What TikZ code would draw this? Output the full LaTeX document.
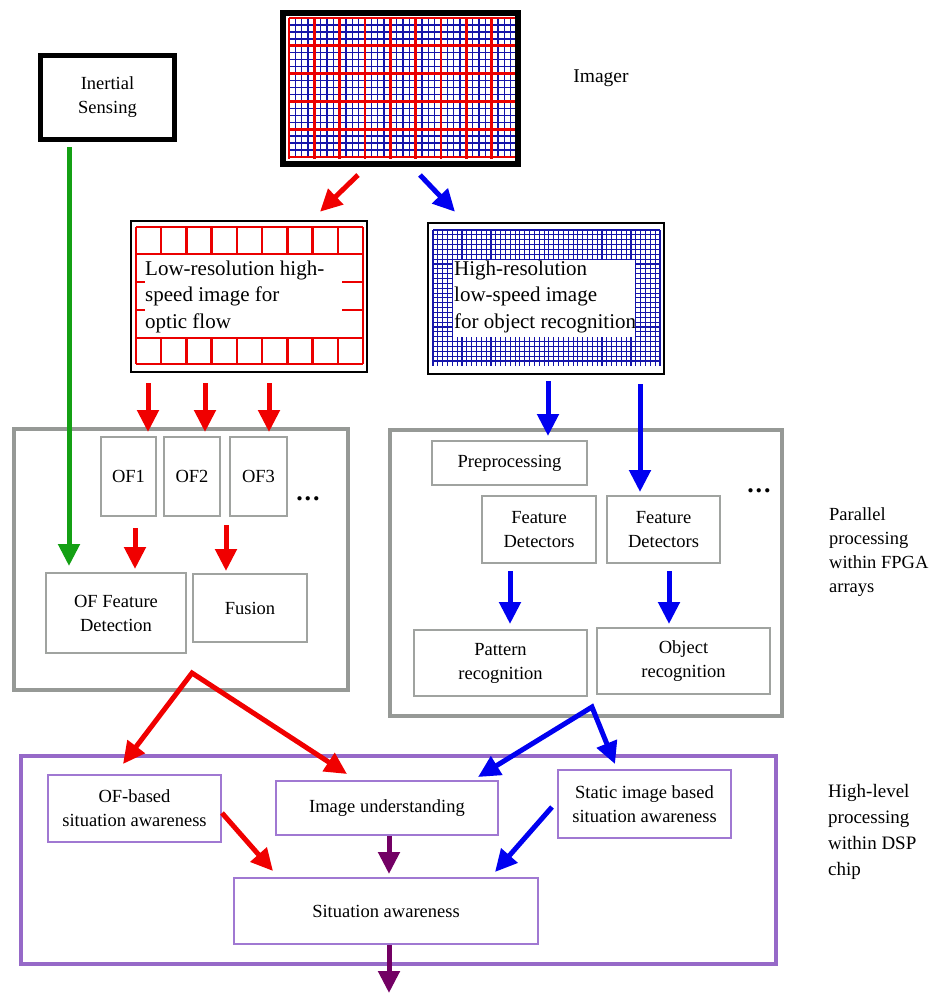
\documentclass[tikz,border=0pt]{standalone}
\usepackage{fontspec}
\setmainfont{Liberation Serif}
\usetikzlibrary{arrows.meta}
\definecolor{fgray}{RGB}{150,153,150}
\definecolor{bgray}{RGB}{160,163,160}
\definecolor{dspp}{RGB}{150,105,200}
\definecolor{dspbox}{RGB}{160,120,210}
\definecolor{arrred}{RGB}{240,0,0}
\definecolor{arrblue}{RGB}{0,0,240}
\definecolor{arrgreen}{RGB}{20,160,20}
\definecolor{arrpurple}{RGB}{115,0,100}
\definecolor{gridblue}{RGB}{20,20,170}
\definecolor{gridred}{RGB}{235,0,0}
\begin{document}
\begin{tikzpicture}[x=1pt,y=-1pt,
  txt/.style={font=\fontsize{18.5}{24}\selectfont, align=center, inner sep=0pt},
  imgtxt/.style={font=\fontsize{21}{26.5}\selectfont, align=left, inner sep=0pt, anchor=west},
  sidetxt/.style={font=\fontsize{18.5}{24}\selectfont, align=left, inner sep=0pt, anchor=west},
  blackbox/.style={draw=black, inner sep=0pt},
  graybox/.style={draw=bgray, line width=2pt, txt},
  bigbox/.style={draw=fgray, line width=4pt, inner sep=0pt},
  dspbig/.style={draw=dspp, line width=4pt, inner sep=0pt},
  pbox/.style={draw=dspbox, line width=2pt, txt},
  arr/.style={line width=5pt, -{Triangle[width=21pt,length=22pt]}},
  arrtwo/.style={line width=5pt, line join=miter, {Triangle[width=21pt,length=22pt]}-{Triangle[width=21pt,length=22pt]}},
  dots/.style={font=\fontsize{26}{26}\selectfont\bfseries, inner sep=0pt}
]
\useasboundingbox (0,0) rectangle (945,994);

% ---------- Imager ----------
\foreach \i in {0,...,36} \draw[gridblue, line width=1.4pt] ({289+\i*228/36},18) -- ++(0,139);
\foreach \j in {0,...,20} \draw[gridblue, line width=1.4pt] (289,{18+\j*139/20}) -- ++(228,0);
\foreach \i in {0,...,9} \draw[gridred, line width=2.8pt] ({289+\i*228/9},18) -- ++(0,141);
\foreach \j in {0,...,5} \draw[gridred, line width=2.8pt] (289,{18+\j*139/5}) -- ++(228,0);
\node[blackbox, line width=6pt, minimum width=235, minimum height=151] (imager) at (400.5,88.5) {};
\node[font=\fontsize{19.5}{24}\selectfont, inner sep=0pt] (imagerlbl) at (601,78) {Imager};

% ---------- Inertial sensing ----------
\node[blackbox, line width=5pt, minimum width=134, minimum height=84, txt] (inertial) at (107.5,97.5) {Inertial\\Sensing};

% ---------- Low resolution image ----------
\begin{scope}[gridred, line width=2.5pt]
\foreach \i in {0,...,9} {
  \draw ({136+\i*227/9},227) -- ++(0,27);
  \draw ({136+\i*227/9},338) -- ++(0,26);
}
\draw (136,227) -- (363,227);
\draw (136,254) -- (363,254);
\draw (136,338) -- (363,338);
\draw (136,364) -- (363,364);
\draw (136,227) -- (136,364);
\draw (363,227) -- (363,364);
\draw (136,282) -- (145,282);
\draw (136,310) -- (145,310);
\draw (342,282) -- (363,282);
\draw (342,310) -- (363,310);
\end{scope}
\node[blackbox, line width=2.5pt, minimum width=236, minimum height=151] (lowres) at (249,296.5) {};
\node[imgtxt] (lrtext) at (145,296.5) {Low-resolution high-\\speed image for\\optic flow};

% ---------- High resolution image ----------
\foreach \i in {0,...,47} \draw[gridblue, line width=1.1pt] ({433+\i*227/47},230) -- ++(0,136);
\foreach \j in {0,...,27} \draw[gridblue, line width=1.1pt] (433,{230+\j*131/27}) -- ++(227,0);
\fill[white] (453,260) rectangle (635,337);
\node[blackbox, line width=2.5pt, minimum width=236, minimum height=151] (highres) at (546,298.5) {};
\node[imgtxt] (hrtext) at (454,296.5) {High-resolution\\low-speed image\\for object recognition};

% ---------- Left FPGA block ----------
\node[bigbox, minimum width=334, minimum height=261] (fpgaL) at (181,559.5) {};
\node[graybox, minimum width=55, minimum height=79] (of1) at (128.5,476.5) {OF1};
\node[graybox, minimum width=56, minimum height=79] (of2) at (192,476.5) {OF2};
\node[graybox, minimum width=57, minimum height=79] (of3) at (258.5,476.5) {OF3};
\node[dots] (dotsL) at (308,499) {.\hspace{2pt}.\hspace{2pt}.};
\node[graybox, minimum width=140, minimum height=80] (ofdet) at (116,613) {OF Feature\\Detection};
\node[graybox, minimum width=114, minimum height=68] (fusion) at (250,608) {Fusion};

% ---------- Right FPGA block ----------
\node[bigbox, minimum width=392, minimum height=286] (fpgaR) at (586,573) {};
\node[graybox, minimum width=155, minimum height=44] (prep) at (509.5,463) {Preprocessing};
\node[graybox, minimum width=114, minimum height=67] (fd1) at (539,529.5) {Feature\\Detectors};
\node[graybox, minimum width=113, minimum height=67] (fd2) at (663.5,529.5) {Feature\\Detectors};
\node[dots] (dotsR) at (759,491) {.\hspace{2pt}.\hspace{2pt}.};
\node[graybox, minimum width=173, minimum height=66] (pattern) at (500.5,663) {Pattern\\recognition};
\node[graybox, minimum width=173, minimum height=66] (object) at (683.5,661) {Object\\recognition};
\node[sidetxt] (fpgalbl) at (829,552) {Parallel\\processing\\within FPGA\\arrays};

% ---------- DSP block ----------
\node[dspbig, minimum width=755, minimum height=208] (dsp) at (398.5,860) {};
\node[pbox, minimum width=173, minimum height=67] (ofsa) at (134.5,808.5) {OF-based\\situation awareness};
\node[pbox, minimum width=222, minimum height=54] (iu) at (387,808) {Image understanding};
\node[pbox, minimum width=173, minimum height=68] (static) at (644.5,804) {Static image based\\situation awareness};
\node[pbox, minimum width=304, minimum height=66] (sa) at (386,911) {Situation awareness};
\node[font=\fontsize{19}{26}\selectfont, align=left, inner sep=0pt, anchor=west] (dsplbl) at (828,832) {High-level\\processing\\within DSP\\chip};

% ---------- Connectors ----------
\coordinate (ra) at (192,673);
\coordinate (ba) at (592,707);
\coordinate (out) at (389,993);

\draw[arr, arrred] ([xshift=-42.5pt,yshift=-8pt]imager.south) -- ([xshift=71pt,yshift=8pt]lowres.north);
\draw[arr, arrblue] ([xshift=19.5pt,yshift=-8pt]imager.south) -- ([xshift=-91pt,yshift=10pt]highres.north);
\draw[arr, arrgreen] ([xshift=-38.5pt,yshift=-5pt]inertial.south) -- ([xshift=-47pt,yshift=6pt]ofdet.north);

\draw[arr, arrred] ([xshift=-101pt,yshift=-10pt]lowres.south) -- ([xshift=19.5pt,yshift=4pt]of1.north);
\draw[arr, arrred] ([xshift=-44pt,yshift=-10pt]lowres.south) -- ([xshift=13pt,yshift=4pt]of2.north);
\draw[arr, arrred] ([xshift=20pt,yshift=-10pt]lowres.south) -- ([xshift=10.5pt,yshift=4pt]of3.north);
\draw[arr, arrred] ([xshift=6.5pt,yshift=-11pt]of1.south) -- ([xshift=19pt,yshift=3pt]ofdet.north);
\draw[arr, arrred] ([xshift=34pt,yshift=-8pt]of2.south) -- ([xshift=-24pt,yshift=2pt]fusion.north);

\draw[arr, arrblue] ([xshift=2pt,yshift=-6pt]highres.south) -- ([xshift=38.5pt,yshift=4pt]prep.north);
\draw[arr, arrblue] ([xshift=94pt,yshift=-9pt]highres.south) -- ([xshift=-23.5pt,yshift=3pt]fd2.north);
\draw[arr, arrblue] ([xshift=-29pt,yshift=-7pt]fd1.south) -- ([xshift=9.5pt,yshift=5pt]pattern.north);
\draw[arr, arrblue] ([xshift=5.5pt,yshift=-7pt]fd2.south) -- ([xshift=-14.5pt,yshift=3pt]object.north);

\draw[arrtwo, arrred] ([xshift=-11.5pt,yshift=10pt]ofsa.north) -- (ra) -- ([xshift=-40pt,yshift=6pt]iu.north);
\draw[arrtwo, arrblue] ([xshift=91pt,yshift=3pt]iu.north) -- (ba) -- ([xshift=-29.5pt,yshift=5pt]static.north);

\draw[arr, arrred] ([yshift=-4.5pt]ofsa.east) -- ([xshift=-113pt,yshift=6pt]sa.north);
\draw[arr, arrpurple] ([xshift=2pt]iu.south) -- ([xshift=3pt,yshift=3pt]sa.north);
\draw[arr, arrblue] ([xshift=-5pt,yshift=-3pt]static.west) -- ([xshift=109pt,yshift=5pt]sa.north);
\draw[arr, arrpurple] ([xshift=3pt]sa.south) -- (out);
\end{tikzpicture}
\end{document}
